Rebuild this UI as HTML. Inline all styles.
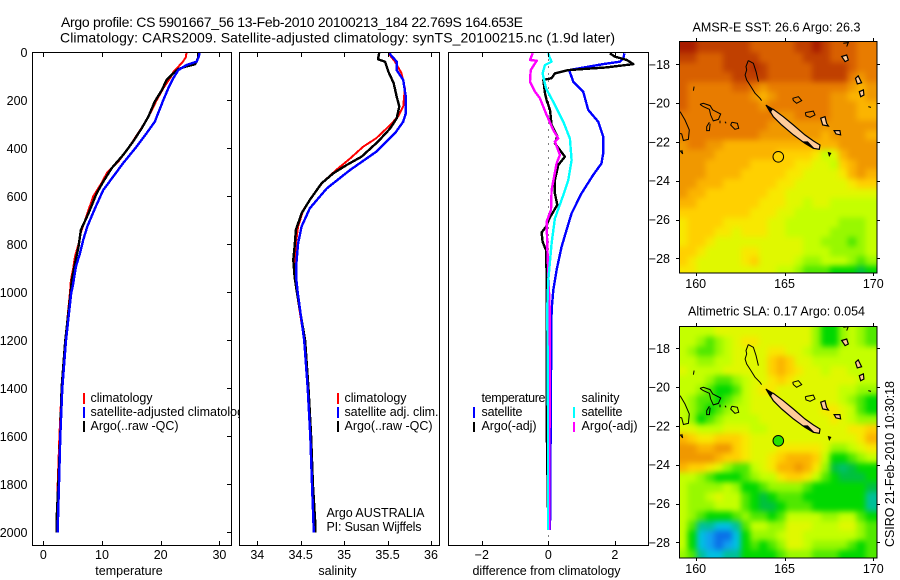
<!DOCTYPE html>
<html lang="en">
<head>
<meta charset="utf-8">
<title>Argo profile CS 5901667_56</title>
<style>
html,body{margin:0;padding:0;background:#fff;}
svg{display:block;}
text{font-family:"Liberation Sans",sans-serif;font-size:12.5px;fill:#000;}
.title{font-size:14px;}
.map-title{font-size:12.5px;}
</style>
</head>
<body>
<svg id="chart" xmlns="http://www.w3.org/2000/svg" width="900" height="580" viewBox="0 0 900 580">
  <rect x="0" y="0" width="900" height="580" fill="#ffffff"/>
  <text class="title" x="61" y="27" textLength="462">Argo profile: CS 5901667_56 13-Feb-2010 20100213_184 22.769S 164.653E</text>
  <text class="title" x="60" y="42.5" textLength="555">Climatology: CARS2009. Satellite-adjusted climatology: synTS_20100215.nc (1.9d later)</text>

  <g id="panelT">
    <rect x="32.5" y="52.5" width="199" height="493" fill="#fff" stroke="none"/>
    <g id="marksT"></g>
    <rect x="83" y="393" width="2" height="11" fill="#ff0000"/>
    <rect x="83" y="407" width="2" height="11" fill="#0000ff"/>
    <rect x="83" y="421" width="2" height="11" fill="#000000"/>
    <text x="90.5" y="402" textLength="62">climatology</text>
    <text x="90.5" y="416">satellite-adjusted climatology</text>
    <text x="90.5" y="430" textLength="88">Argo(..raw -QC)</text>
    <rect x="32.5" y="52.5" width="199" height="493" fill="none" stroke="#000"/>
    <g id="ticksT"></g>
    <g id="ticksY"></g>
    <text x="129" y="575" text-anchor="middle">temperature</text>
  </g>

  <g id="panelS">
    <rect x="239.5" y="52.5" width="200" height="493" fill="#fff"/>
    <g id="marksS"></g>
    <rect x="337" y="393" width="2" height="11" fill="#ff0000"/>
    <rect x="337" y="407" width="2" height="11" fill="#0000ff"/>
    <rect x="337" y="421" width="2" height="11" fill="#000000"/>
    <text x="344.5" y="402" textLength="62">climatology</text>
    <text x="344.5" y="416" textLength="94">satellite adj. clim.</text>
    <text x="344.5" y="430" textLength="88">Argo(..raw -QC)</text>
    <text x="326.5" y="517" textLength="98">Argo AUSTRALIA</text>
    <text x="326.5" y="531" textLength="95">PI: Susan Wijffels</text>
    <rect x="239.5" y="52.5" width="200" height="493" fill="none" stroke="#000"/>
    <g id="ticksS"></g>
    <text x="337.5" y="575" text-anchor="middle">salinity</text>
  </g>

  <g id="panelD">
    <rect x="448.5" y="52.5" width="200" height="493" fill="#fff"/>
    <g id="marksD"></g>
    <rect x="473" y="407" width="2" height="11" fill="#0000ff"/>
    <rect x="473" y="422" width="2" height="10" fill="#000000"/>
    <rect x="573" y="407" width="2" height="11" fill="#00ffff"/>
    <rect x="573" y="422" width="2" height="10" fill="#ff00ff"/>
    <text x="481.5" y="402" textLength="64">temperature</text>
    <text x="481.5" y="416" textLength="41">satellite</text>
    <text x="481.5" y="430" textLength="55">Argo(-adj)</text>
    <text x="581.5" y="402" textLength="38">salinity</text>
    <text x="581.5" y="416" textLength="41">satellite</text>
    <text x="581.5" y="430" textLength="56">Argo(-adj)</text>
    <rect x="448.5" y="52.5" width="200" height="493" fill="none" stroke="#000"/>
    <g id="ticksD"></g>
    <text x="546.5" y="575" text-anchor="middle" textLength="148">difference from climatology</text>
  </g>

  <defs>
    <clipPath id="clipSst"><rect x="679" y="41" width="198" height="232"/></clipPath>
    <clipPath id="clipSla"><rect x="679" y="326" width="198" height="232"/></clipPath>
    <filter id="cellBlur" filterUnits="userSpaceOnUse" x="650" y="10" width="250" height="570" color-interpolation-filters="sRGB">
      <feGaussianBlur stdDeviation="3"/>
    </filter>
  </defs>
  <text class="map-title" x="776.5" y="31.5" text-anchor="middle" textLength="168">AMSR-E SST: 26.6 Argo: 26.3</text>
  <g id="mapSst"></g>
  <text class="map-title" x="776.5" y="315.5" text-anchor="middle" textLength="177">Altimetric SLA: 0.17 Argo: 0.054</text>
  <g id="mapSla"></g>
  <text transform="translate(894,547) rotate(-90)" textLength="166">CSIRO 21-Feb-2010 10:30:18</text>
</svg>

<script>
// ---------- axis ticks ----------
const depthTicks = [0,200,400,600,800,1000,1200,1400,1600,1800,2000];
const tempTicks = [0,10,20,30];
const tempTickLabels = ["0","10","20","30"];
const salTicks = [34,34.5,35,35.5,36];
const salTickLabels = ["34","34.5","35","35.5","36"];
const diffTicks = [-2,0,2];
const diffTickLabels = ["\u22122","0","2"];
const lonTicks = [160,165,170];
const lonTickLabels = ["160","165","170"];
const latTicks = [-18,-20,-22,-24,-26,-28];
const latTickLabels = ["\u221218","\u221220","\u221222","\u221224","\u221226","\u221228"];

// ---------- temperature profiles ----------
const tClimDepth = [0,20,40,60,80,100,150,200,250,300,350,400,450,500,550,600,650,700,750,800,850,900,950,1000,1200,1400,1600,1800,2000];
const tClimValue = [24.4,24.3,23.75,23.0,22.2,21.8,20.45,19.3,18.3,17.15,15.8,14.5,12.95,10.9,9.8,8.5,7.8,7.1,6.4,6.0,5.4,5.1,4.7,4.55,3.75,3.12,2.75,2.45,2.27];
const tSatDepth = [0,18,39,53,74,108,150,199,289,337,393,462,518,574,650,726,782,837,893,976,1000,1200,1400,1600,1800,2000];
const tSatValue = [26.6,26.5,26.1,24.4,23.0,22.15,21.3,20.45,19.0,17.6,15.9,13.6,11.9,10.2,8.8,7.5,6.8,6.25,5.55,5.0,4.77,3.86,3.24,2.9,2.67,2.44];
const tArgoDepth = [0,20,40,50,60,70,88,115,157,205,268,317,372,428,483,539,587,671,740,810,879,949,990,1200,1400,1600,1800,1950,2000];
const tArgoValue = [26.4,26.4,26.1,25.85,24.15,23.0,22.15,21.0,20.2,19.0,17.9,16.75,15.3,13.6,11.65,10.2,9.1,7.7,6.4,6.0,5.4,4.85,4.7,3.75,3.12,2.9,2.55,2.27,2.27];

// ---------- salinity profiles ----------
const sClimDepth = [4,39,87,150,226,268,303,358,393,442,490,539,594,657,726,796,865,921,976,1200,1400,1600,1800,2000];
const sClimValue = [35.51,35.585,35.66,35.70,35.68,35.62,35.53,35.37,35.22,35.07,34.91,34.76,34.645,34.53,34.47,34.445,34.43,34.43,34.445,34.54,34.58,34.61,34.63,34.65];
const sSatDepth = [4,39,74,115,185,254,289,337,414,490,567,650,726,796,879,949,1000,1200,1400,1600,1800,2000];
const sSatValue = [35.52,35.605,35.605,35.68,35.71,35.71,35.68,35.585,35.37,35.07,34.80,34.605,34.51,34.47,34.45,34.45,34.465,34.54,34.58,34.61,34.63,34.65];
const sArgoDepth = [0,29,39,81,129,185,226,275,317,372,435,469,504,546,615,671,740,810,865,935,987,1200,1400,1600,1800,1950,2000];
const sArgoValue = [35.405,35.39,35.47,35.51,35.57,35.605,35.635,35.605,35.53,35.39,35.20,35.03,34.875,34.74,34.605,34.51,34.445,34.43,34.415,34.43,34.45,34.55,34.59,34.62,34.64,34.665,34.665];

// ---------- difference profiles ----------
const dTSatDepth = [4,25,39,49,74,122,164,240,289,351,421,463,511,588,671,740,810,907,990,1074,1351,1990];
const dTSatValue = [2.29,2.26,2.16,1.65,0.63,0.75,1.05,1.2,1.5,1.65,1.65,1.6,1.35,1.0,0.7,0.55,0.4,0.25,0.15,0.1,0.08,0.05];
const dTArgoDepth = [4,18,32,49,63,74,88,108,115,171,199,240,303,351,379,435,469,532,588,636,664,692,727,751,789,824,921,1060,1240,1463,1531,1990];
const dTArgoValue = [1.85,2.0,2.36,2.56,1.75,0.6,0.2,0.1,-0.15,-0.1,-0.05,0.05,0.1,0.27,0.2,0.5,0.3,0.2,0.2,0.27,0.15,0.03,-0.07,-0.2,-0.17,-0.07,-0.05,-0.05,-0.05,-0.05,-0.05,0.0];
const dSSatDepth = [4,25,39,53,88,150,219,289,359,449,532,595,692,796,948,1060,1500,1990];
const dSSatValue = [0,0.05,0.1,-0.1,-0.17,-0.07,0.2,0.45,0.65,0.7,0.6,0.45,0.2,0.1,0,-0.03,-0.01,-0.01];
const dSArgoDepth = [4,32,35,74,122,164,192,261,324,359,372,428,463,574,657,706,810,921,1060,1500,1990];
const dSArgoValue = [-0.47,-0.55,-0.35,-0.53,-0.55,-0.4,-0.25,-0.05,0.15,0.3,0.2,0.35,0.25,0.1,0.08,-0.05,-0.03,0,0.04,0.04,0.03];
const zeroLineDepth = [0,2050];
const zeroLineValue = [0,0];

// ---------- map grids: colour-scale level of each half-degree cell ----------
const sstGrid = [
[0,0,1,1,1,1,1,1,2,2,2,2,2,1,1,0,1,2,2,2,3,3],
[1,1,2,2,2,1,1,1,1,2,2,2,2,2,1,1,1,2,2,2,3,3],
[2,2,2,2,2,1,1,1,0.5,1,2,2,2,2,2,1,1,1,1,2,3,3],
[2,2,2,2,2,2,1,1,1,1,2,2,2,2,2,1,1,1,1,3,4,3],
[2,3,3,3,3,3,2,2,3,4,3,3,3,3,3,3,3,3,3,4,5,4],
[2,3,3,3,3,3,3,3,4,5,4,3,3,3,3,3,3,4,4,5,5,4],
[2,3,3,3,3,3,3,3,3,4,3,3,3,3,3,3,3,4,4,4,5,5],
[3,3,3,3,3,3,3,3,3,3,3,4,4,3,3,3,3,4,4,4,5,5],
[3,3,3,3,3,3,3,3,3,3,4,4,4,4,4,4,4,4,4,4,4,4],
[3,3,3,3,3,3,3,3,3,4,4,4,4,4,4,4,5,4,4,4,4,5],
[4,3,3,4,4,5,5,5,5,5,5,5,5,5,5,5,5,5,4,4,4,4],
[4,4,4,4,5,5,5,5,5,5,5,6,6,6,6,7,9,8,5,4,4,4],
[4,4,4,5,5,5,5,5,6,6,6,6,6,7,7,8,8,9,6,5,4,4],
[4,4,4,5,5,5,5,6,6,6,6,6,7,7,8,8,8,8,7,5,4,5],
[4,4,5,5,5,6,6,6,6,6,6,7,7,8,8,8,8,8,8,7,6,6],
[4,5,5,6,6,6,6,6,6,6,7,7,8,8,8,8,8,8,8,8,8,8],
[5,5,6,6,6,6,6,6,6,7,7,7,8,8,9,8,8,9,9,9,9,9],
[6,6,6,6,6,6,6,6,7,7,7,8,8,9,9,9,9,9,9,9,9,9],
[7,6,6,6,6,7,7,7,7,7,8,8,9,9,9,9,9,9,10,10,10,9],
[7,6,6,6,7,7,8,7,7,7,8,8,9,9,9,9,9,10,10,10,10,9],
[7,6,6,7,8,8,8,8,8,8,8,8,8,8,9,9,10,10,10,11,10,9],
[6,6,7,8,8,8,8,7,7,8,8,8,8,8,9,9,9,10,10,10,10,9],
[6,7,8,8,8,8,8,7,6,8,8,8,8,9,10,10,9,9,9,10,11,10],
[7,7,8,8,8,8,8,8,8,8,8,9,9,10,11,11,11,12,12,12,13,12]
];
const slaGrid = [
[9,9,9,9,8,8,8,8,8,8,8,8,8,8,8,10,12,12,10,9,10,11],
[9,9,10,11,10,9,8,7,7,8,8,8,8,8,8,10,12,12,10,9,10,11],
[9,10,11,11,10,9,8,8,8,8,7,7,8,8,9,10,10,10,9,9,9,9],
[9,9,10,10,9,9,8,8,8,8,6,5,6,8,8,9,9,9,9,9,9,9],
[8,9,9,9,9,8,8,8,8,8,6,5,6,7,8,8,9,8,8,9,9,9],
[9,9,9,10,11,11,10,9,8,8,7,6,7,8,8,8,8,8,8,8,9,9],
[9,9,10,11,12,12,11,9,8,7,7,8,8,8,8,8,8,8,9,9,10,10],
[9,10,11,11,12,11,10,9,8,8,8,8,8,8,8,8,8,8,9,10,11,12],
[9,10,11,12,11,10,9,9,8,8,8,8,8,8,8,8,7,7,8,9,11,12],
[9,10,12,11,10,9,9,9,9,8,8,8,8,8,8,8,8,7,8,9,10,10],
[8,8,9,9,9,8,8,8,9,9,8,8,8,8,8,8,8,8,8,7,7,6],
[5,6,7,7,6,6,6,7,8,8,8,8,8,8,8,8,8,8,8,8,7,5],
[4,4,5,5,4,4,6,7,8,8,8,7,7,7,7,7,8,10,10,9,8,7],
[4,4,4,4,5,6,6,7,8,8,7,6,5,5,5,6,9,12,12,11,10,9],
[5,6,6,7,8,10,11,11,9,8,7,5,5,4,5,7,10,13,13.5,13,12,12],
[9,9,10,11,12,12,12,11,10,9,9,7,6,6,7,9,11,12,13,13,13,12],
[9,10,10,10,10,9,10,12,12,11,10,10,10,10,11,12,12,12,12,12,12,13],
[9,10,10,9,8,9,9,11,12,13,12,11,11,11,12,12,12,12,12,12,12,14],
[9,10,10,10,9,9,9,11,12,13,13,12,11,11,11,12,12,12,12,12,12,14],
[9,10,11,12,12,12,11,10,11,11,12,11,9,9,9,9,10,10,9,9,11,12],
[9,11,14,14,15,15,14,11,9,9,10,10,8,8,8,9,9,9,8,8,10,11],
[9,12,15,16,17,17,15,12,10,10,10,9,8,8,9,9,9,9,9,9,10,11],
[9,12,15,16,17,16,15,12,11,12,11,10,8,8,9,10,10,10,10,11,12,11],
[10,11,14,15,15,14,14,12,12,12,12,11,10,10,10,11,11,11,12,12,12,11]
];
const colourScale = ["#a81c00","#c04000","#d86000","#e87c00","#f09800","#fbb400","#ffd000","#f8e800","#e0f800","#c4ff00","#98f800","#50e800","#00d800","#00c040","#00c098","#00c0e0","#10a0f0","#0a70e8"];
const stationLon = [164.653];
const stationLat = [-22.769];
const stationSstLevel = [6];
const stationSlaLevel = [11.5];

// ---------- coastlines, longitude/latitude ----------
const reefNorth = [[162.96,-17.81],[162.83,-18.12],[162.87,-18.29],[162.78,-18.55],[162.87,-18.81],[163.06,-19.07],[163.34,-19.49],[163.62,-19.75],[163.71,-19.87]];
const reefEast = [[162.96,-17.81],[163.25,-17.95],[163.4,-18.38],[163.53,-18.89]];
const chesterfield = [[160.24,-20.06],[160.43,-20.01],[160.81,-20.13],[160.96,-20.35],[161.41,-20.56],[161.28,-20.84],[160.99,-20.92],[160.84,-20.61],[160.77,-20.32],[160.43,-20.18],[160.24,-20.06]];
const chesterfieldSouth = [[160.77,-20.99],[160.62,-21.21],[160.62,-21.42],[160.77,-21.42],[160.81,-21.06]];
const bellona = [[162.03,-20.99],[162.35,-21.04],[162.42,-21.3],[162.21,-21.35],[161.97,-21.13],[162.03,-20.99]];
const reefBitA = [[161.37,-20.9],[161.37,-21.04]];
const reefBitB = [[161.65,-20.96],[161.71,-21.04]];
const westCoast = [[159.12,-20.44],[159.4,-20.87],[159.64,-21.38],[159.59,-21.87],[159.31,-21.93],[159.21,-21.59],[159.08,-21.56]];
const westBit = [[159.12,-22.45],[159.27,-22.62],[159.22,-22.42]];
const northBit = [[159.91,-19.15],[159.87,-19.36]];
const loyaltyA = [[165.46,-19.75],[165.78,-19.67],[165.97,-19.87],[165.68,-20.01],[165.5,-19.87],[165.46,-19.75]];
const loyaltyB = [[166.17,-20.49],[166.62,-20.41],[166.72,-20.61],[166.44,-20.73],[166.21,-20.66],[166.17,-20.49]];
const grandeTerre = [[164.09,-20.27],[164.37,-20.32],[164.93,-20.70],[165.50,-21.13],[166.15,-21.64],[166.62,-21.95],[167.0,-22.16],[166.96,-22.38],[166.62,-22.33],[166.15,-22.07],[165.50,-21.64],[164.84,-21.13],[164.37,-20.70]];
const lifou = [[167.04,-20.78],[167.28,-20.70],[167.37,-21.04],[167.47,-21.18],[167.15,-21.13]];
const mare = [[167.79,-21.42],[168.12,-21.42],[168.16,-21.64],[167.9,-21.59]];
const islandA = [[168.22,-17.6],[168.5,-17.52],[168.59,-17.78],[168.41,-17.86]];
const islandB = [[169.0,-18.72],[169.15,-18.6],[169.34,-18.95],[169.1,-19.01]];
const islandC = [[169.21,-19.41],[169.44,-19.32],[169.47,-19.58],[169.29,-19.67]];
const islandD = [[168.31,-16.92],[168.59,-16.88],[168.5,-17.09]];
const islandE = [[169.72,-20.18],[169.87,-20.22]];
const isleOfPines = [[167.47,-22.55],[167.6,-22.59],[167.52,-22.71]];
const caledoniaNorthReef = [[163.95,-20.1],[164.32,-20.3],[164.2,-20.48]];
const caledoniaSouthReef = [[166.05,-22.0],[166.65,-22.33],[166.3,-22.0]];
const openCoasts = [reefNorth,reefEast,chesterfield,chesterfieldSouth,bellona,reefBitA,reefBitB,westCoast,westBit,northBit,loyaltyA,loyaltyB,islandD,islandE];
const landCoasts = [grandeTerre,lifou,mare,islandA,islandB,islandC];
const darkCoasts = [isleOfPines,caledoniaNorthReef,caledoniaSouthReef];

// ---------- axis functions ----------
const NS = "http://www.w3.org/2000/svg";
const yDepth = d => 52.3 + d * 0.24;
const xTemp = t => 43.3 + t * 5.87;
const xSal = s => 257.3 + (s - 34) * 86.85;
const xDiff = v => 548.3 + v * 33.25;
const xLon = lon => 695.7 + (lon - 160) * 17.76;
const yLatSst = lat => 64.3 + (-18 - lat) * 19.4;
const yLatSla = lat => 348.3 + (-18 - lat) * 19.4;

function svgEl(tag, attrs, parent){
  const el = document.createElementNS(NS, tag);
  for (const k in attrs) el.setAttribute(k, attrs[k]);
  parent.appendChild(el);
  return el;
}

function drawProfile(parent, xs, ds, xFn, colour, width, name, dash){
  const pts = xs.map((v, i) => xFn(v).toFixed(1) + "," + yDepth(ds[i]).toFixed(1)).join(" ");
  const el = svgEl("polyline", {points: pts, fill: "none", stroke: colour, "stroke-width": width, "shape-rendering": "crispEdges", "stroke-linejoin": "round"}, parent);
  
  
  if (dash) el.setAttribute("stroke-dasharray", dash);
}

function drawXAxis(parent, ticks, labels, xFn){
  ticks.forEach((t, i) => {
    const x = Math.round(xFn(t)) + 0.5;
    const a = svgEl("line", {x1: x, x2: x, y1: 545.5, y2: 541, stroke: "#000"}, parent);
    
    
    const b = svgEl("line", {x1: x, x2: x, y1: 52.5, y2: 57, stroke: "#000"}, parent);
    
    
    const lab = svgEl("text", {x: xFn(t), y: 559, "text-anchor": "middle"}, parent);
    lab.textContent = labels[i];
    
    
  });
}

// profile panels
const marksT = document.getElementById("marksT");
drawProfile(marksT, tClimValue, tClimDepth, xTemp, "#ff0000", 2, "temperature-climatology-line");
drawProfile(marksT, tArgoValue, tArgoDepth, xTemp, "#000000", 2.4, "temperature-argo-line");
drawProfile(marksT, tSatValue, tSatDepth, xTemp, "#0000ff", 2.4, "temperature-satellite-line");

const marksS = document.getElementById("marksS");
drawProfile(marksS, sClimValue, sClimDepth, xSal, "#ff0000", 2, "salinity-climatology-line");
drawProfile(marksS, sArgoValue, sArgoDepth, xSal, "#000000", 2.4, "salinity-argo-line");
drawProfile(marksS, sSatValue, sSatDepth, xSal, "#0000ff", 2.4, "salinity-satellite-line");

const marksD = document.getElementById("marksD");
drawProfile(marksD, zeroLineValue, zeroLineDepth, xDiff, "#000000", 1, "zero-difference-line", "1 6");
drawProfile(marksD, dTSatValue, dTSatDepth, xDiff, "#0000ff", 2.4, "temperature-satellite-difference-line");
drawProfile(marksD, dTArgoValue, dTArgoDepth, xDiff, "#000000", 2.4, "temperature-argo-difference-line");
drawProfile(marksD, dSArgoValue, dSArgoDepth, xDiff, "#ff00ff", 2.4, "salinity-argo-difference-line");
drawProfile(marksD, dSSatValue, dSSatDepth, xDiff, "#00ffff", 2.4, "salinity-satellite-difference-line");

drawXAxis(document.getElementById("ticksT"), tempTicks, tempTickLabels, xTemp);
drawXAxis(document.getElementById("ticksS"), salTicks, salTickLabels, xSal);
drawXAxis(document.getElementById("ticksD"), diffTicks, diffTickLabels, xDiff);

const ticksY = document.getElementById("ticksY");
depthTicks.forEach(d => {
  const y = Math.round(yDepth(d)) + 0.5;
  const tk = svgEl("line", {x1: 231.5, x2: 227, y1: y, y2: y, stroke: "#000"}, ticksY);
  
  
  const lab = svgEl("text", {x: 27.5, y: yDepth(d) + 4.5, "text-anchor": "end"}, ticksY);
  lab.textContent = String(d);
  
  
});

// maps
function hexToRgb(h){ return [1,3,5].map(i => parseInt(h.substr(i,2),16)); }
function levelColour(v){
  const m = Math.max(0, Math.min(colourScale.length - 1, v));
  const lo = Math.floor(m), hi = Math.min(colourScale.length - 1, lo + 1), f = m - lo;
  const a = hexToRgb(colourScale[lo]), b = hexToRgb(colourScale[hi]);
  return "rgb(" + a.map((c, i) => Math.round(c + (b[i] - c) * f)).join(",") + ")";
}

const MAP_LON_MIN = 159.05, CELL_DEG = 0.5, MAP_LAT_MAX = -16.9, EDGE_BLEED = 14;

function drawMap(gid, grid, yLat, clip, prefix, stationLevel, top){
  const g = document.getElementById(gid);
  const bottom = top + 232;
  const clipGroup = svgEl("g", {"clip-path": "url(#" + clip + ")"}, g);
  
  
  const cells = svgEl("g", {filter: "url(#cellBlur)", "shape-rendering": "crispEdges"}, clipGroup);
  
  
  grid.forEach((row, r) => {
    row.forEach((v, c) => {
      let x0 = xLon(MAP_LON_MIN + c * CELL_DEG), x1 = xLon(MAP_LON_MIN + (c + 1) * CELL_DEG);
      let y0 = yLat(MAP_LAT_MAX - r * CELL_DEG), y1 = yLat(MAP_LAT_MAX - (r + 1) * CELL_DEG);
      if (c === 0) x0 -= EDGE_BLEED;
      if (c === row.length - 1) x1 += EDGE_BLEED;
      if (r === 0) y0 -= EDGE_BLEED;
      if (r === grid.length - 1) y1 += EDGE_BLEED;
      const rect = svgEl("rect", {x: x0.toFixed(2), y: y0.toFixed(2), width: (x1 - x0 + 0.5).toFixed(2), height: (y1 - y0 + 0.5).toFixed(2), fill: levelColour(v)}, cells);
      
      
    });
  });
  const coast = svgEl("g", {"clip-path": "url(#" + clip + ")"}, g);
  
  
  const ptsOf = arr => arr.map(p => xLon(p[0]).toFixed(1) + "," + yLat(p[1]).toFixed(1)).join(" ");
  openCoasts.forEach(arr => {
    const el = svgEl("polyline", {points: ptsOf(arr), fill: "none", stroke: "#000", "stroke-width": 1}, coast);
    
    
  });
  landCoasts.forEach(arr => {
    const el = svgEl("polygon", {points: ptsOf(arr), fill: "#ffcc99", stroke: "#000", "stroke-width": 1.2}, coast);
    
    
  });
  darkCoasts.forEach(arr => {
    const el = svgEl("polygon", {points: ptsOf(arr), fill: "#000", stroke: "#000", "stroke-width": 1}, coast);
    
    
  });
  const st = svgEl("circle", {cx: xLon(stationLon[0]).toFixed(1), cy: yLat(stationLat[0]).toFixed(1), r: 5.3, fill: levelColour(stationLevel[0]), stroke: "#000", "stroke-width": 1}, g);
  
  
  const frame = svgEl("rect", {x: 679.5, y: top + 0.5, width: 197.5, height: 231.5, fill: "none", stroke: "#000"}, g);
  
  
  lonTicks.forEach((lon, i) => {
    const x = Math.round(xLon(lon)) + 0.5;
    const t1 = svgEl("line", {x1: x, x2: x, y1: top, y2: top - 3, stroke: "#000"}, g);
    
    
    const t2 = svgEl("line", {x1: x, x2: x, y1: bottom, y2: bottom + 3, stroke: "#000"}, g);
    
    
    const lab = svgEl("text", {x: xLon(lon), y: bottom + 15, "text-anchor": "middle"}, g);
    lab.textContent = lonTickLabels[i];
    
    
  });
  latTicks.forEach((lat, i) => {
    const y = Math.round(yLat(lat)) + 0.5;
    const t1 = svgEl("line", {x1: 679, x2: 676, y1: y, y2: y, stroke: "#000"}, g);
    
    
    const t2 = svgEl("line", {x1: 877, x2: 880, y1: y, y2: y, stroke: "#000"}, g);
    
    
    const lab = svgEl("text", {x: 670, y: yLat(lat) + 4.5, "text-anchor": "end"}, g);
    lab.textContent = latTickLabels[i];
    
    
  });
}

drawMap("mapSst", sstGrid, yLatSst, "clipSst", "sst", stationSstLevel, 41);
drawMap("mapSla", slaGrid, yLatSla, "clipSla", "sla", stationSlaLevel, 326);
</script>
</body>
</html>
